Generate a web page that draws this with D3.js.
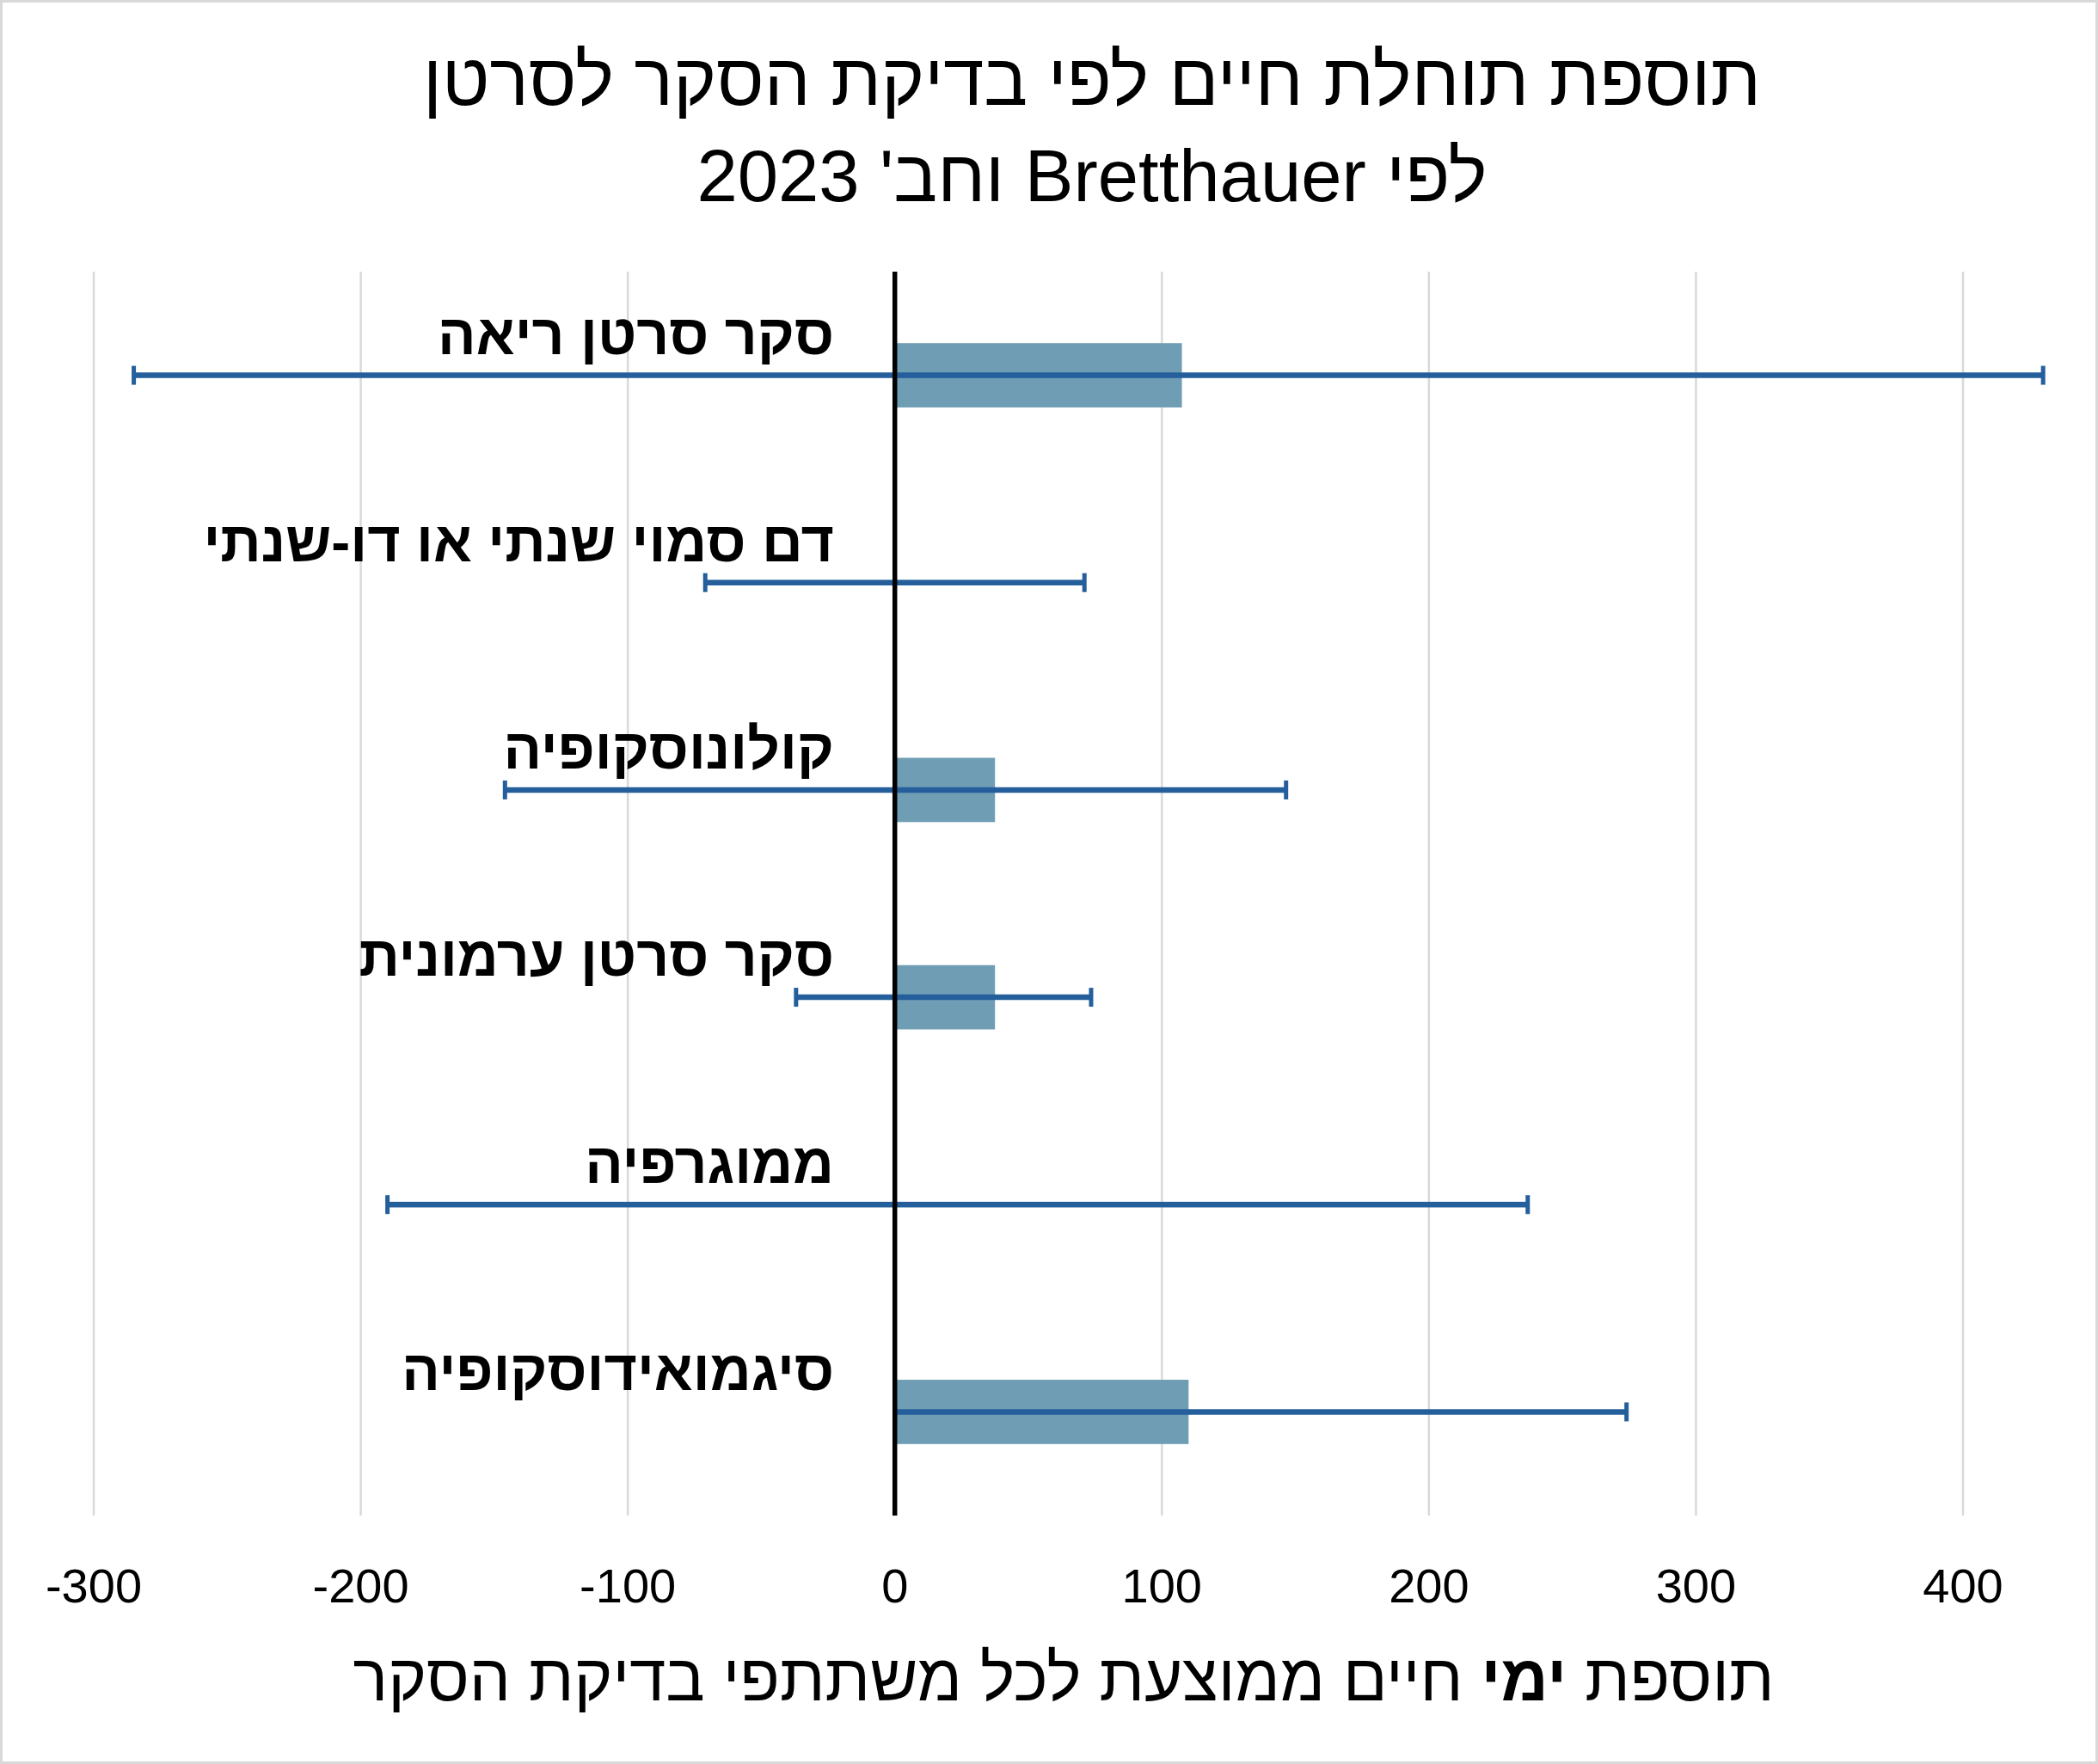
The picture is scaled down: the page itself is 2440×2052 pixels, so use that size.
<!DOCTYPE html>
<html lang="he">
<head>
<meta charset="utf-8">
<script src="https://cdn.jsdelivr.net/npm/d3@7"></script>
<style>
  html, body { margin: 0; padding: 0; background: #fff; }
  svg { display: block; font-family: 'Liberation Sans', Arial, sans-serif; }
</style>
</head>
<body>
<svg id="chart"></svg>
<script>
// data
const categories = [
  'סקר סרטן ריאה',
  'דם סמוי שנתי או דו-שנתי',
  'קולונוסקופיה',
  'סקר סרטן ערמונית',
  'ממוגרפיה',
  'סיגמואידוסקופיה'
]
const values = [107.5, 0, 37.5, 37.5, 0, 110]
const lower = [-285, -71, -146, -37, -190, 0]
const upper = [430, 71, 146.5, 73.5, 237, 274]
const ticks = [-300, -200, -100, 0, 100, 200, 300, 400]

const W = 2440
const H = 2052
const color = {
  bar: '#6e9db4',
  err: '#245f9c',
  grid: '#d9d9d9',
  axis: '#000',
  text: '#000'
}

const svg = d3.select('#chart').attr('width', W).attr('height', H)

// outer frame
svg.append('rect')
  .attr('x', 1.5).attr('y', 1.5)
  .attr('width', W - 3).attr('height', H - 3)
  .attr('fill', '#fff')
  .attr('stroke', color.grid)
  .attr('stroke-width', 3)

const plot = { top: 316, bottom: 1763 }

const x = d3.scaleLinear().domain([-300, 400]).range([109, 2283])
const y = d3.scaleBand().domain(categories).range([plot.top, plot.bottom])
const bw = y.bandwidth()
const barH = bw * 0.31
const mid = (c) => y(c) + bw / 2

// gridlines
svg.append('g')
  .selectAll('line')
  .data(ticks.filter((t) => t !== 0))
  .join('line')
  .attr('x1', (d) => x(d)).attr('x2', (d) => x(d))
  .attr('y1', plot.top).attr('y2', plot.bottom)
  .attr('stroke', color.grid)
  .attr('stroke-width', 2.5)

// tick labels
svg.append('g')
  .selectAll('text')
  .data(ticks)
  .join('text')
  .attr('x', (d) => x(d))
  .attr('y', 1864)
  .attr('text-anchor', 'middle')
  .attr('font-size', 56)
  .attr('fill', color.text)
  .text((d) => d)

// bars
svg.append('g')
  .selectAll('rect')
  .data(categories)
  .join('rect')
  .attr('x', (d, i) => Math.min(x(0), x(values[i])))
  .attr('y', (d) => mid(d) - barH / 2)
  .attr('width', (d, i) => Math.abs(x(values[i]) - x(0)))
  .attr('height', barH)
  .attr('fill', color.bar)

// error bars
const eb = svg.append('g').attr('stroke', color.err)
eb.selectAll('.errLine')
  .data(categories)
  .join('line')
  .attr('class', 'errLine')
  .attr('x1', (d, i) => x(lower[i])).attr('x2', (d, i) => x(upper[i]))
  .attr('y1', mid).attr('y2', mid)
  .attr('stroke-width', 6.5)
eb.selectAll('.capLo')
  .data(categories)
  .join('line')
  .attr('class', 'capLo')
  .attr('x1', (d, i) => x(lower[i])).attr('x2', (d, i) => x(lower[i]))
  .attr('y1', (d) => mid(d) - 11).attr('y2', (d) => mid(d) + 11)
  .attr('stroke-width', 5)
eb.selectAll('.capHi')
  .data(categories)
  .join('line')
  .attr('class', 'capHi')
  .attr('x1', (d, i) => x(upper[i])).attr('x2', (d, i) => x(upper[i]))
  .attr('y1', (d) => mid(d) - 11).attr('y2', (d) => mid(d) + 11)
  .attr('stroke-width', 5)

// zero axis line
svg.append('line')
  .attr('x1', x(0)).attr('x2', x(0))
  .attr('y1', plot.top).attr('y2', plot.bottom)
  .attr('stroke', color.axis)
  .attr('stroke-width', 5.5)

// category labels, right aligned left of the axis
svg.append('g')
  .selectAll('text')
  .data(categories)
  .join('text')
  .attr('x', 970)
  .attr('y', (d) => mid(d) - 25)
  .attr('direction', 'rtl')
  .attr('text-anchor', 'start')
  .attr('font-size', 66)
  .attr('font-weight', 700)
  .attr('fill', color.text)
  .text((d) => d)

// title
const title = svg.append('text')
  .attr('direction', 'rtl')
  .attr('text-anchor', 'middle')
  .attr('font-size', 85)
  .attr('fill', color.text)
title.append('tspan').attr('x', 1270).attr('y', 122).text('תוספת תוחלת חיים לפי בדיקת הסקר לסרטן')
title.append('tspan').attr('x', 1270).attr('y', 234).text("לפי Bretthauer וחב' 2023")

// x axis title
const xt = svg.append('text')
  .attr('x', 1237)
  .attr('y', 1978)
  .attr('direction', 'rtl')
  .attr('text-anchor', 'middle')
  .attr('font-size', 76)
  .attr('fill', color.text)
xt.append('tspan').text('תוספת ')
xt.append('tspan').attr('font-weight', 700).text('ימי')
xt.append('tspan').text(' חיים ממוצעת לכל משתתפי בדיקת הסקר')
</script>
</body>
</html>
